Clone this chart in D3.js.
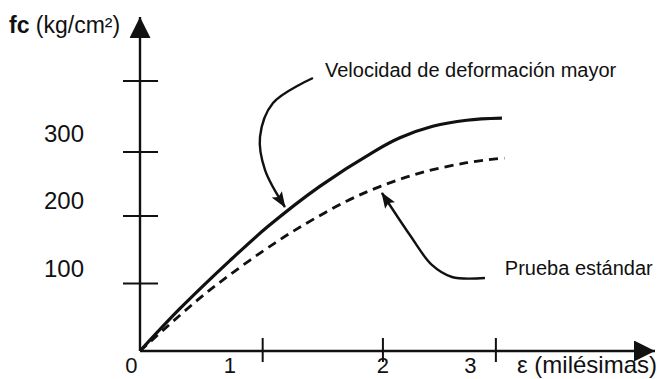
<!DOCTYPE html>
<html>
<head>
<meta charset="utf-8">
<script src="https://cdn.jsdelivr.net/npm/d3@7/dist/d3.min.js"></script>
<style>
  html, body { margin: 0; padding: 0; background: #fff; }
  svg { display: block; }
  text { font-family: "Liberation Sans", Arial, Helvetica, sans-serif; fill: #111; }
</style>
</head>
<body>
<svg id="chart" width="659" height="379"></svg>
<script>
// Stress–strain curves of concrete: faster loading rate vs. standard test
const strainFast = [0, 0.33, 0.74, 1.05, 1.48, 1.93, 2.14, 2.41, 2.69, 2.98];
const stressFast = [0, 63, 134, 184, 244, 296, 316, 333, 342, 345];

const strainStd = [0, 0.47, 0.74, 1.11, 1.34, 1.70, 1.98, 2.31, 2.69, 3.00];
const stressStd = [0, 75, 113, 160, 186, 222, 244, 264, 279, 286];

// axis tick marks and tick labels (as drawn on the sketch)
const yTickMarks = [100, 200, 295, 400];
const yTickLabels = [100, 200, 300];
const xTickMarks = [1.01, 2.0, 2.93];
const xTickLabels = ["0", "1", "2", "3"];
const xTickLabelAt = [-0.07, 0.74, 2.0, 2.72];

const yTitle = "(kg/cm²)";
const xTitle = "ε (milésimas)";
const fastLabel = "Velocidad de deformación mayor";
const stdLabel = "Prueba estándar";

const svg = d3.select("#chart");
const ink = "#111";

const x = d3.scaleLinear().domain([0, 4.24]).range([140, 655]);
const y = d3.scaleLinear().domain([0, 495]).range([351, 17]);

// arrowhead markers
const defs = svg.append("defs");
defs.append("marker")
  .attr("id", "axisHead")
  .attr("viewBox", "0 0 20 20")
  .attr("refX", 20).attr("refY", 10)
  .attr("markerUnits", "userSpaceOnUse")
  .attr("markerWidth", 21).attr("markerHeight", 21)
  .attr("orient", "auto")
  .append("path").attr("d", "M0,0 L20,10 L0,20 Z").attr("fill", ink);
defs.append("marker")
  .attr("id", "noteHead")
  .attr("viewBox", "0 0 16 12")
  .attr("refX", 15).attr("refY", 6)
  .attr("markerUnits", "userSpaceOnUse")
  .attr("markerWidth", 16).attr("markerHeight", 12)
  .attr("orient", "auto")
  .append("path").attr("d", "M0,0 L16,6 L0,12 L3,6 Z").attr("fill", ink);

// axes
svg.append("line")
  .attr("x1", x(0)).attr("y1", y(0)).attr("x2", x(0)).attr("y2", y(495))
  .attr("stroke", ink).attr("stroke-width", 2.4)
  .attr("marker-end", "url(#axisHead)");
svg.append("line")
  .attr("x1", x(0)).attr("y1", y(0)).attr("x2", x(4.24)).attr("y2", y(0))
  .attr("stroke", ink).attr("stroke-width", 2.4)
  .attr("marker-end", "url(#axisHead)");

// y tick marks crossing the axis
svg.selectAll(".ytick").data(yTickMarks).join("line")
  .attr("class", "ytick")
  .attr("x1", x(0) - 17).attr("x2", x(0) + 18)
  .attr("y1", d => y(d)).attr("y2", d => y(d))
  .attr("stroke", ink).attr("stroke-width", 2);

// x tick marks crossing the axis
svg.selectAll(".xtick").data(xTickMarks).join("line")
  .attr("class", "xtick")
  .attr("x1", d => x(d)).attr("x2", d => x(d))
  .attr("y1", y(0) - 13).attr("y2", y(0) + 11)
  .attr("stroke", ink).attr("stroke-width", 2);

// y tick labels, set above their marks
svg.selectAll(".ylab").data(yTickLabels).join("text")
  .attr("class", "ylab")
  .attr("x", x(0) - 56)
  .attr("y", d => y(d) - 15)
  .attr("dy", "0.35em")
  .attr("text-anchor", "end")
  .attr("font-size", 24)
  .text(d => d);

// x tick labels
svg.selectAll(".xlab").data(xTickLabels).join("text")
  .attr("class", "xlab")
  .attr("x", (d, i) => x(xTickLabelAt[i]))
  .attr("y", 373)
  .attr("text-anchor", "middle")
  .attr("font-size", 22)
  .text(d => d);

// axis titles
const yt = svg.append("text")
  .attr("x", 9).attr("y", 33)
  .attr("font-size", 23);
yt.append("tspan").attr("font-weight", "bold").text("fc");
yt.append("tspan").text(" " + yTitle);

svg.append("text")
  .attr("x", 657).attr("y", 373)
  .attr("text-anchor", "end")
  .attr("font-size", 24)
  .text(xTitle);

// curves
const line = d3.line()
  .x(d => x(d[0])).y(d => y(d[1]))
  .curve(d3.curveCatmullRom.alpha(0.5));

svg.append("path")
  .datum(d3.zip(strainStd, stressStd))
  .attr("d", line)
  .attr("fill", "none").attr("stroke", ink)
  .attr("stroke-width", 2.8)
  .attr("stroke-dasharray", "9,6");

svg.append("path")
  .datum(d3.zip(strainFast, stressFast))
  .attr("d", line)
  .attr("fill", "none").attr("stroke", ink)
  .attr("stroke-width", 3.2);

// annotations with curved pointer arrows
const pointer = d3.line()
  .x(d => x(d[0])).y(d => y(d[1]))
  .curve(d3.curveCatmullRom.alpha(0.5));

const fastPointer = [[1.424, 404.6], [1.095, 367.6], [0.988, 317.2], [1.029, 268.3], [1.193, 213.4]];
const stdPointer = [[2.840, 108.2], [2.568, 109.7], [2.403, 127.5], [2.222, 171.9], [1.992, 234.2]];

[fastPointer, stdPointer].forEach(pts => {
  svg.append("path")
    .datum(pts)
    .attr("d", pointer)
    .attr("fill", "none").attr("stroke", ink)
    .attr("stroke-width", 2.4)
    .attr("marker-end", "url(#noteHead)");
});

svg.append("text")
  .attr("x", x(1.523)).attr("y", y(406))
  .attr("font-size", 20)
  .text(fastLabel);

svg.append("text")
  .attr("x", x(3.004)).attr("y", y(112.6))
  .attr("font-size", 20)
  .text(stdLabel);
</script>
</body>
</html>
